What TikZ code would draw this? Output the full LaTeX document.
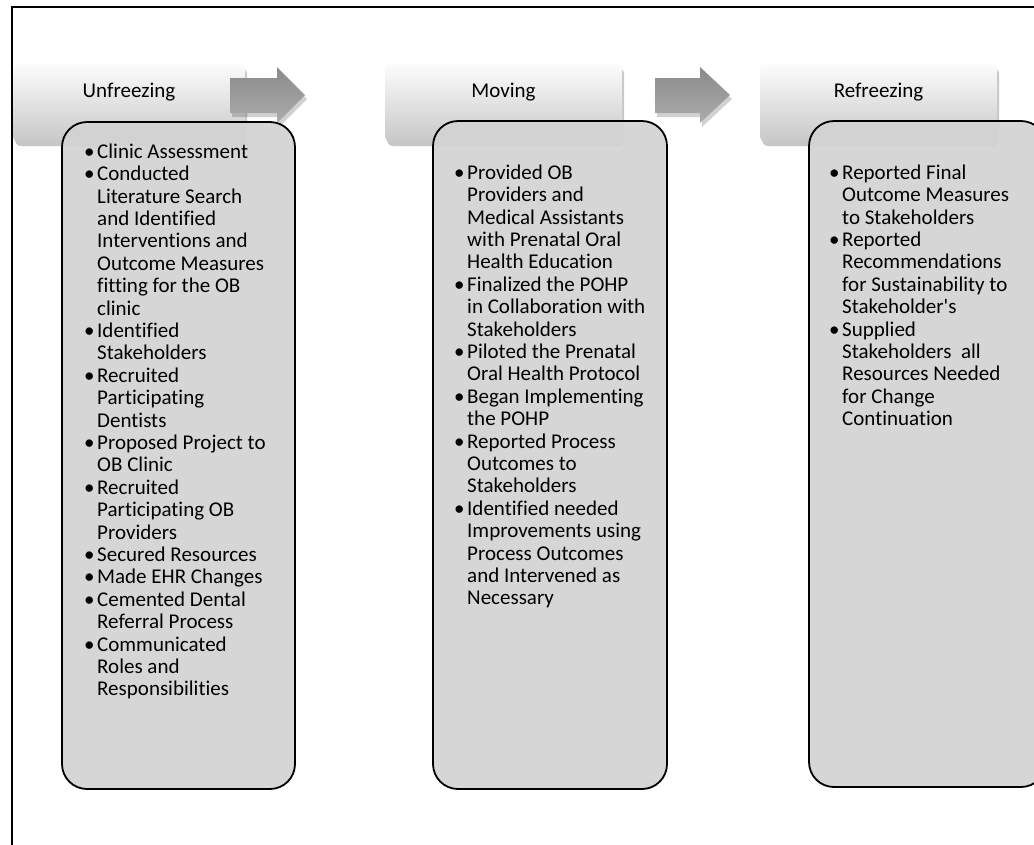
\documentclass[tikz,border=0pt]{standalone}
\usepackage{fontspec}
\setmainfont{Carlito}[Ligatures=NoCommon]
\usetikzlibrary{shadows}
\definecolor{boxgray}{RGB}{211,211,211}
\definecolor{arrowtop}{RGB}{138,138,138}
\definecolor{arrowbot}{RGB}{172,172,172}
\definecolor{headtop}{RGB}{252,252,252}
\definecolor{headbot}{RGB}{200,200,200}
\newcommand{\itembul}{\llap{\textbullet\kern2.5pt}}
\newcommand{\firstline}{\rule{0pt}{18pt}}
\tikzset{
  frameline/.style={line width=2pt, black},
  headerbox/.style={rounded corners=6pt, top color=headtop, bottom color=headbot,
    draw=none, inner xsep=0pt, inner ysep=0pt, text height=33pt, text depth=45pt,
    minimum width=#1, font={\fontsize{21}{24}\selectfont},
    drop shadow={shadow xshift=2pt, shadow yshift=-4pt, opacity=0.22, fill=black}},
  procarrow/.style={top color=arrowtop, bottom color=arrowbot, draw=none,
    drop shadow={shadow xshift=2pt, shadow yshift=-4pt, opacity=0.18, fill=black}},
  contentbox/.style={rounded corners=25pt, draw=black, line width=1.8pt,
    fill=boxgray, fill opacity=0.92, inner sep=0pt},
  listtext/.style={anchor=north west, inner sep=0pt, align=left,
    font={\fontsize{21}{22.4}\selectfont}}
}
\begin{document}
\begin{tikzpicture}[x=1pt, y=-1pt]
\useasboundingbox (0,0) rectangle (1034,844);
\fill[white] (0,0) rectangle (1034,844);
% outer frame (top and left sides)
\coordinate (fbl) at (12,846);
\coordinate (ftl) at (12,7);
\coordinate (ftr) at (1036,7);
\draw[frameline] (fbl) -- (ftl) -- (ftr);

% headers
\node[headerbox=232pt] (h1) at (129,103) {Unfreezing};
\node[headerbox=237pt] (h2) at (503.5,103) {Moving};
\node[headerbox=237pt] (h3) at (878.5,103) {Refreezing};

% arrows
\path[procarrow] (230,78) -- (277,78) -- (277,67) -- (305,95) -- (277,123) -- (277,113) -- (230,113) -- cycle;
\path[procarrow] (655,78) -- (700,78) -- (700,67) -- (730,95) -- (700,123) -- (700,113) -- (655,113) -- cycle;

% content boxes
\path[contentbox] (62,122) rectangle (295,789);
\path[contentbox] (433,121) rectangle (667,789);
\path[contentbox] (809,121) rectangle (1046,787);

% texts
\node[listtext] (t1) at (97,140) {\itembul\firstline Clinic Assessment\\
\itembul Conducted\\
Literature Search\\
and Identified\\
Interventions and\\
Outcome Measures\\
fitting for the OB\\
clinic\\
\itembul Identified\\
Stakeholders\\
\itembul Recruited\\
Participating\\
Dentists\\
\itembul Proposed Project to\\
OB Clinic\\
\itembul Recruited\\
Participating OB\\
Providers\\
\itembul Secured Resources\\
\itembul Made EHR Changes\\
\itembul Cemented Dental\\
Referral Process\\
\itembul Communicated\\
Roles and\\
Responsibilities};

\node[listtext] (t2) at (467,161) {\itembul\firstline Provided OB\\
Providers and\\
Medical Assistants\\
with Prenatal Oral\\
Health Education\\
\itembul Finalized the POHP\\
in Collaboration with\\
Stakeholders\\
\itembul Piloted the Prenatal\\
Oral Health Protocol\\
\itembul Began Implementing\\
the POHP\\
\itembul Reported Process\\
Outcomes to\\
Stakeholders\\
\itembul Identified needed\\
Improvements using\\
Process Outcomes\\
and Intervened as\\
Necessary};

\node[listtext] (t3) at (842,161) {\itembul\firstline Reported Final\\
Outcome Measures\\
to Stakeholders\\
\itembul Reported\\
Recommendations\\
for Sustainability to\\
Stakeholder\textquotesingle s\\
\itembul Supplied\\
Stakeholders\ \ all\\
Resources Needed\\
for Change\\
Continuation};
\end{tikzpicture}
\end{document}
